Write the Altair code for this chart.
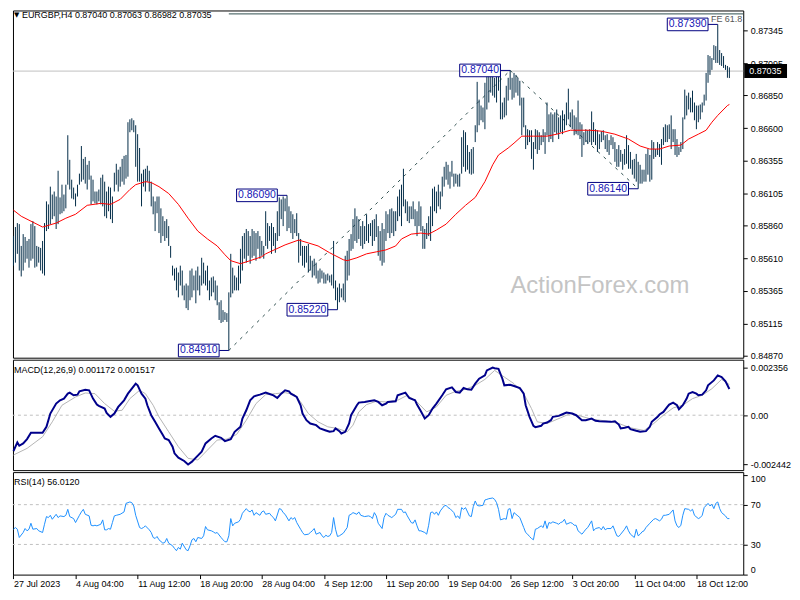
import altair as alt
import pandas as pd

# ---------------- data ----------------
highs = [
0.85780,0.85849,0.85879,0.85871,0.85705,0.85795,0.85773,0.85743,0.85758,0.85871,
0.85894,0.85856,0.85705,0.85698,0.85690,0.85743,0.85879,0.86044,0.86021,0.86156,
0.86096,0.86119,0.86081,0.86277,0.86074,0.86171,0.86096,0.86171,0.86547,0.86360,
0.86209,0.86149,0.86104,0.86171,0.86255,0.86465,0.86367,0.86382,0.86322,0.86352,
0.86240,0.86209,0.86119,0.86119,0.86134,0.86224,0.86247,0.86194,0.86119,0.86156,
0.86149,0.86081,0.86262,0.86330,0.86285,0.86307,0.86367,0.86390,0.86397,0.86646,
0.86668,0.86676,0.86661,0.86623,0.86555,0.86450,0.86255,0.86285,0.86292,0.86315,
0.86277,0.86194,0.86081,0.86044,0.86081,0.86081,0.85991,0.85931,0.85894,0.85909,
0.85856,0.85705,0.85555,0.85533,0.85540,0.85503,0.85555,0.85518,0.85404,0.85419,
0.85404,0.85518,0.85533,0.85480,0.85518,0.85548,0.85480,0.85615,0.85578,0.85518,
0.85555,0.85442,0.85465,0.85473,0.85442,0.85404,0.85277,0.85292,0.85217,0.85202,
0.85194,0.85352,0.85645,0.85540,0.85480,0.85465,0.85555,0.85683,0.85780,0.85803,
0.85834,0.85818,0.85780,0.85834,0.85818,0.85803,0.85818,0.85780,0.85743,0.85705,
0.85969,0.85879,0.85856,0.85879,0.85849,0.85803,0.85969,0.86074,0.86059,0.86081,
0.86066,0.86090,0.86006,0.85969,0.85946,0.85909,0.85954,0.85803,0.85758,0.85705,
0.85705,0.85705,0.85720,0.85630,0.85593,0.85608,0.85578,0.85518,0.85533,0.85518,
0.85503,0.85488,0.85495,0.85480,0.85488,0.85743,0.85442,0.85389,0.85419,0.85382,
0.85419,0.85630,0.85668,0.85758,0.85795,0.85909,0.85991,0.85931,0.85909,0.85856,
0.85894,0.85856,0.85946,0.85871,0.85879,0.85901,0.85909,0.85946,0.85856,0.85818,
0.85879,0.85834,0.85969,0.85946,0.85984,0.85991,0.85969,0.85969,0.86081,0.86134,
0.86171,0.86292,0.86059,0.86044,0.86006,0.86006,0.86044,0.85984,0.85969,0.86044,
0.86006,0.85856,0.85834,0.85879,0.85931,0.86006,0.86141,0.86156,0.86119,0.86171,
0.86119,0.86232,0.86307,0.86345,0.86322,0.86270,0.86352,0.86255,0.86255,0.86247,
0.86255,0.86532,0.86585,0.86570,0.86472,0.86420,0.86442,0.86457,0.86623,0.86953,
0.86818,0.86773,0.86758,0.86946,0.87006,0.86999,0.87021,0.87036,0.86984,0.87006,
0.86999,0.87021,0.86796,0.86833,0.86923,0.86984,0.87040,0.86984,0.87021,0.87006,
0.86984,0.86961,0.86833,0.86833,0.86623,0.86593,0.86585,0.86585,0.86495,0.86593,
0.86585,0.86570,0.86547,0.86593,0.86570,0.86796,0.86706,0.86721,0.86706,0.86721,
0.86743,0.86683,0.86698,0.86736,0.86706,0.86796,0.86901,0.86721,0.86743,0.86698,
0.86683,0.86811,0.86646,0.86630,0.86570,0.86593,0.86585,0.86593,0.86728,0.86646,
0.86593,0.86585,0.86555,0.86578,0.86585,0.86547,0.86555,0.86510,0.86547,0.86532,
0.86495,0.86442,0.86472,0.86435,0.86405,0.86442,0.86547,0.86472,0.86420,0.86360,
0.86367,0.86405,0.86345,0.86322,0.86285,0.86285,0.86405,0.86442,0.86397,0.86510,
0.86495,0.86442,0.86495,0.86480,0.86518,0.86608,0.86630,0.86623,0.86630,0.86698,
0.86593,0.86593,0.86518,0.86457,0.86495,0.86683,0.86894,0.86848,0.86871,0.86833,
0.86886,0.86796,0.86773,0.86773,0.86781,0.86796,0.86856,0.87021,0.87157,0.87149,
0.87134,0.87232,0.87225,0.87390,0.87195,0.87172,0.87149,0.87082,0.87074,0.87063]

lows = [
0.85555,0.85578,0.85645,0.85518,0.85473,0.85518,0.85578,0.85608,0.85540,0.85593,
0.85608,0.85540,0.85548,0.85578,0.85518,0.85495,0.85480,0.85818,0.85834,0.85871,
0.85909,0.85931,0.85834,0.85871,0.85946,0.85954,0.85969,0.85991,0.86171,0.86134,
0.86066,0.86059,0.86006,0.86081,0.86171,0.86194,0.86209,0.86179,0.86134,0.86209,
0.86021,0.86044,0.86029,0.86021,0.86044,0.86021,0.86006,0.85931,0.85916,0.85969,
0.85909,0.85879,0.86119,0.86171,0.86119,0.86156,0.86194,0.86171,0.86217,0.86232,
0.86570,0.86585,0.86570,0.86307,0.86194,0.86194,0.86006,0.86156,0.86119,0.86194,
0.86119,0.86006,0.85946,0.85818,0.85954,0.85803,0.85728,0.85780,0.85743,0.85765,
0.85705,0.85615,0.85480,0.85442,0.85367,0.85314,0.85404,0.85329,0.85292,0.85232,
0.85217,0.85292,0.85314,0.85367,0.85269,0.85367,0.85329,0.85404,0.85419,0.85404,
0.85367,0.85292,0.85322,0.85352,0.85292,0.85254,0.85142,0.85119,0.85127,0.85142,
0.85127,0.84910,0.85314,0.85344,0.85367,0.85367,0.85367,0.85419,0.85518,0.85608,
0.85578,0.85630,0.85570,0.85615,0.85630,0.85593,0.85683,0.85608,0.85630,0.85608,
0.85705,0.85683,0.85743,0.85645,0.85705,0.85653,0.85743,0.85780,0.85909,0.85856,
0.85969,0.85818,0.85841,0.85803,0.85758,0.85803,0.85780,0.85578,0.85630,0.85555,
0.85540,0.85578,0.85503,0.85518,0.85465,0.85480,0.85457,0.85419,0.85427,0.85457,
0.85419,0.85419,0.85442,0.85427,0.85404,0.85382,0.85292,0.85220,0.85277,0.85314,
0.85292,0.85277,0.85442,0.85480,0.85668,0.85683,0.85743,0.85728,0.85758,0.85705,
0.85683,0.85720,0.85743,0.85728,0.85780,0.85705,0.85743,0.85773,0.85630,0.85593,
0.85555,0.85578,0.85743,0.85803,0.85765,0.85803,0.85780,0.85818,0.85894,0.85931,
0.85856,0.86006,0.85954,0.85894,0.85879,0.85909,0.85909,0.85856,0.85780,0.85856,
0.85818,0.85683,0.85683,0.85758,0.85780,0.85743,0.85856,0.85969,0.85954,0.86006,
0.85984,0.86081,0.86156,0.86209,0.86171,0.86141,0.86232,0.86156,0.86179,0.86156,
0.86156,0.86255,0.86307,0.86270,0.86285,0.86255,0.86247,0.86255,0.86495,0.86570,
0.86623,0.86661,0.86646,0.86593,0.86743,0.86796,0.86871,0.86848,0.86833,0.86796,
0.86886,0.86668,0.86668,0.86683,0.86698,0.86811,0.86893,0.86818,0.86833,0.86871,
0.86848,0.86773,0.86547,0.86608,0.86442,0.86472,0.86495,0.86367,0.86285,0.86442,
0.86405,0.86435,0.86472,0.86495,0.86405,0.86547,0.86495,0.86518,0.86495,0.86570,
0.86555,0.86518,0.86570,0.86555,0.86585,0.86623,0.86668,0.86608,0.86593,0.86547,
0.86555,0.86547,0.86518,0.86382,0.86472,0.86495,0.86480,0.86495,0.86472,0.86495,
0.86472,0.86420,0.86442,0.86495,0.86510,0.86442,0.86420,0.86397,0.86472,0.86442,
0.86345,0.86307,0.86307,0.86345,0.86285,0.86322,0.86330,0.86292,0.86292,0.86247,
0.86217,0.86194,0.86140,0.86179,0.86179,0.86194,0.86194,0.86247,0.86194,0.86209,
0.86367,0.86382,0.86397,0.86382,0.86322,0.86472,0.86495,0.86495,0.86518,0.86442,
0.86495,0.86397,0.86382,0.86397,0.86420,0.86442,0.86668,0.86698,0.86743,0.86721,
0.86721,0.86661,0.86593,0.86646,0.86668,0.86721,0.86773,0.86811,0.86946,0.87006,
0.87044,0.87119,0.87097,0.87097,0.87082,0.87074,0.87059,0.87044,0.86984,0.86982]

ma_idx = [0,4,8,15,22,27,32,38,45,50,55,60,63,68,71,75,80,85,90,95,
          100,105,109,112,117,122,128,130,140,147,152,157,163,170,172,177,182,187,192,197,
          200,205,210,214,218,223,228,233,238,243,247,250,255,258,262,268,275,280,287,293,
          297,303,310,317,323,328,333,338,344,348,353,357,360,363,368,369]
ma_val = [0.85977,0.85931,0.85901,0.85849,0.85879,0.85916,0.85946,0.86014,0.86029,0.86021,
          0.86059,0.86134,0.86171,0.86194,0.86187,0.86156,0.86104,0.86021,0.85916,0.85818,
          0.85758,0.85705,0.85638,0.85593,0.85570,0.85593,0.85623,0.85645,0.85713,0.85750,
          0.85728,0.85705,0.85653,0.85600,0.85593,0.85615,0.85645,0.85660,0.85675,0.85705,
          0.85758,0.85795,0.85803,0.85795,0.85826,0.85871,0.85946,0.86014,0.86074,0.86194,
          0.86322,0.86397,0.86450,0.86487,0.86540,0.86540,0.86540,0.86555,0.86585,0.86585,
          0.86585,0.86578,0.86555,0.86518,0.86465,0.86442,0.86442,0.86465,0.86472,0.86518,
          0.86555,0.86585,0.86646,0.86698,0.86773,0.86781]

macd_idx = [0,2,3,5,7,9,15,17,19,22,24,26,28,29,31,33,34,37,39,41,43,44,47,48,50,52,54,57,59,61,
            63,64,66,68,69,71,73,75,77,78,80,82,83,85,88,90,92,94,97,99,102,104,107,109,112,114,117,118,120,122,
            124,127,130,132,134,136,138,140,142,143,146,148,149,151,153,156,158,161,163,165,166,168,169,171,173,174,177,178,181,183,
            186,188,190,192,193,197,198,202,204,207,208,210,212,214,216,218,221,223,226,228,230,232,234,236,238,240,243,244,247,248,
            250,252,253,256,258,261,263,264,266,268,269,272,273,275,277,278,281,283,285,288,290,293,295,298,300,302,305,308,310,312,
            313,315,317,318,321,323,326,328,329,332,333,335,337,338,340,342,343,345,347,348,350,352,353,355,357,358,361,363,365,367,369]
macd_val = [-0.001774,-0.001347,-0.001512,-0.001397,-0.001183,-0.000871,-0.000871,-0.000575,0.000082,0.000575,
            0.000739,0.000822,0.001068,0.001117,0.000986,0.001019,0.001183,0.001265,0.001232,0.000822,
            0.000526,0.000460,0.000329,0.000115,-0.000082,0.000082,0.000411,0.000739,0.001068,0.001314,
            0.001561,0.001479,0.001068,0.000822,0.000493,0.0,-0.000329,-0.000657,-0.000986,-0.001150,
            -0.001232,-0.001561,-0.001889,-0.002103,-0.002268,-0.002440,-0.002300,-0.002103,-0.001807,-0.001397,
            -0.001150,-0.001019,-0.001117,-0.001281,-0.001183,-0.000822,-0.000575,-0.000164,0.000246,0.000739,
            0.000937,0.001019,0.001117,0.001052,0.000986,0.000854,0.001068,0.001232,0.001183,0.001068,
            0.000904,0.000493,0.000082,-0.000246,-0.000411,-0.000493,-0.000657,-0.000756,-0.000822,-0.000789,
            -0.000657,-0.000789,-0.000904,-0.000822,-0.000411,0.0,0.000493,0.000624,0.000657,0.000690,
            0.000739,0.000657,0.000493,0.000575,0.000657,0.000690,0.000986,0.001117,0.000854,0.000739,
            0.000526,0.000197,-0.000164,0.0,0.000329,0.000575,0.000986,0.001282,0.001380,0.001150,
            0.001117,0.001347,0.001282,0.001265,0.001561,0.001807,0.001972,0.002218,0.002356,0.002330,
            0.002300,0.001807,0.001479,0.001512,0.001446,0.001347,0.001068,0.000493,-0.000082,-0.000526,
            -0.000591,-0.000526,-0.000411,-0.000361,-0.000246,-0.000082,-0.000033,0.000049,0.000131,0.000082,
            0.0,-0.000246,-0.000246,-0.000164,-0.000279,-0.000296,-0.000312,-0.000329,-0.000296,-0.000460,
            -0.000657,-0.000624,-0.000575,-0.000690,-0.000772,-0.000822,-0.000789,-0.000575,-0.000329,-0.000082,
            0.000033,0.000164,0.000411,0.000526,0.000624,0.000493,0.000296,0.000493,0.000822,0.001068,
            0.001150,0.001068,0.000986,0.001019,0.001232,0.001479,0.001725,0.001972,0.001890,0.001676,0.001300]

sig_idx = [0,7,15,20,25,32,37,42,47,52,56,60,65,68,72,75,80,85,90,95,
           100,105,110,115,120,125,130,135,140,145,148,152,157,162,167,172,175,178,182,187,
           192,198,203,208,213,218,223,228,233,238,243,248,253,258,263,267,270,275,282,287,
           292,298,305,312,318,325,330,335,340,345,350,355,360,365,369]
sig_val = [-0.001972,-0.001643,-0.001068,-0.000329,0.000493,0.000904,0.001101,0.001068,0.000575,0.000197,
           0.000246,0.000822,0.001232,0.001068,0.000493,-0.000082,-0.000822,-0.001561,-0.002136,-0.002218,
           -0.001725,-0.001232,-0.001183,-0.000953,-0.000246,0.000575,0.001019,0.001068,0.001117,0.001019,
           0.000657,0.000082,-0.000329,-0.000575,-0.000657,-0.000822,-0.000493,0.000164,0.000526,0.000690,
           0.000657,0.000739,0.000986,0.000657,0.000164,0.000411,0.000986,0.001183,0.001282,0.001479,
           0.001774,0.002218,0.001890,0.001561,0.001068,0.000329,-0.000329,-0.000411,-0.000131,0.000082,
           -0.000033,-0.000197,-0.000279,-0.000411,-0.000624,-0.000756,-0.000411,0.0,0.000361,0.000493,
           0.000822,0.000986,0.001314,0.001774,0.001517]

rsi_idx = [0,1,2,3,5,6,7,8,9,10,12,13,15,16,17,18,19,20,22,23,24,26,27,28,29,31,32,34,35,36,
           37,39,40,41,42,43,45,46,47,48,49,50,51,52,53,55,57,58,60,61,62,63,65,66,67,68,70,71,72,73,
           74,75,77,78,79,80,82,83,84,85,86,87,89,90,91,92,93,94,95,97,98,99,100,102,103,104,105,107,108,109,
           110,111,112,113,114,116,117,118,120,121,122,123,124,125,127,128,129,130,132,133,134,135,137,138,139,140,142,143,144,145,
           146,148,149,150,152,153,154,155,156,158,159,160,161,162,163,164,165,166,167,168,170,172,173,174,175,177,178,179,181,183,
           184,185,186,187,188,190,191,192,193,195,196,197,198,200,201,202,203,205,206,207,208,209,210,212,213,214,215,216,217,218,
           219,220,222,223,224,225,227,228,229,230,231,232,233,235,236,237,238,239,240,242,243,244,245,247,248,249,250,251,253,254,
           255,256,257,258,259,260,261,263,264,265,266,267,268,269,270,272,273,274,275,276,277,278,280,281,282,283,284,285,287,288,
           289,290,291,293,294,295,296,298,299,300,302,303,304,305,306,308,309,310,311,312,313,315,316,317,318,320,321,322,323,324,
           325,326,328,330,331,333,334,335,336,338,340,341,342,343,344,345,346,348,349,350,351,353,354,355,356,358,359,360,361,362,
           363,364,365,367,368,369]
rsi_val = [45.3,47.0,45.3,37.0,42.0,46.0,43.7,45.3,51.3,45.3,46.0,43.7,42.0,50.3,58.0,57.0,59.3,55.3,60.3,57.0,58.7,58.0,59.3,65.3,58.0,56.0,52.0,59.3,62.7,65.3,
           60.3,58.7,49.3,48.7,49.3,48.7,50.3,54.7,44.7,44.7,46.0,45.3,52.0,58.7,59.3,60.3,62.7,71.3,72.7,72.0,68.7,59.3,47.0,46.0,47.0,48.7,44.7,42.0,37.0,36.0,
           38.0,34.7,31.3,32.0,36.0,31.3,28.7,26.0,23.7,27.0,25.3,31.3,24.7,23.7,28.7,34.7,36.0,32.7,37.0,36.0,38.7,48.0,44.7,43.7,42.7,41.3,42.0,37.0,34.7,32.7,
           32.7,38.7,56.0,48.7,51.3,52.7,55.3,61.3,66.0,63.7,62.7,64.7,59.3,62.0,59.3,62.7,63.7,60.3,61.3,58.7,57.0,53.7,66.0,65.3,62.0,60.3,53.7,57.0,55.3,57.0,
           52.0,45.3,42.0,39.7,40.3,42.0,43.7,46.0,40.3,42.0,38.7,37.0,39.3,38.0,38.7,42.0,57.0,45.3,38.0,38.7,41.3,47.0,59.3,60.3,62.0,60.3,62.7,59.3,58.0,58.7,
           58.0,56.0,62.0,58.7,51.3,46.0,57.0,61.3,59.3,57.0,58.7,60.3,65.3,65.3,62.0,62.7,58.7,52.0,51.3,54.7,48.7,43.7,43.7,42.0,40.3,49.3,62.0,62.7,60.3,62.7,
           59.3,63.7,68.7,69.3,67.0,66.0,62.0,57.0,58.7,56.0,67.0,65.3,67.0,58.7,58.0,68.0,73.7,69.3,68.7,69.3,74.7,75.3,76.0,76.7,75.3,72.0,65.3,54.7,56.0,55.3,
           65.3,66.0,56.0,62.0,60.3,58.7,57.0,47.0,42.0,40.3,38.0,36.0,34.7,45.3,46.0,48.7,47.0,53.7,46.0,52.0,51.3,52.7,51.3,50.3,52.0,52.7,55.3,50.3,52.0,51.3,
           49.3,49.3,43.7,40.3,42.7,45.3,47.0,53.7,43.7,46.0,47.0,44.7,48.0,44.7,46.0,46.0,48.7,43.7,38.7,38.0,40.3,45.3,48.7,43.7,40.3,37.0,45.3,38.7,40.3,42.7,
           43.7,47.0,51.3,55.3,56.0,53.7,55.3,59.3,59.3,60.3,64.7,53.7,48.7,47.0,49.3,59.3,66.0,65.3,63.7,65.3,59.3,56.0,57.0,59.3,67.0,71.3,68.7,70.3,66.0,71.3,
           72.7,66.0,62.0,58.7,56.0,56.0]

price_ticks = [0.84870, 0.85115, 0.85365, 0.85610, 0.85860, 0.86105, 0.86355, 0.86600, 0.86850, 0.87095, 0.87345]
macd_ticks = [0.002356, 0.0, -0.002442]
rsi_ticks = [0, 30, 70, 100]
date_idx = [0, 32, 64, 96, 128, 160, 192, 224, 256, 288, 320, 352]
date_labels = ["27 Jul 2023", "4 Aug 04:00", "11 Aug 12:00", "18 Aug 20:00", "28 Aug 04:00", "4 Sep 12:00",
               "11 Sep 20:00", "19 Sep 04:00", "26 Sep 12:00", "3 Oct 20:00", "11 Oct 04:00", "18 Oct 12:00"]

swing_idx = [111, 141, 167, 256, 322, 363]
swing_price = [0.84910, 0.86090, 0.85220, 0.87040, 0.86140, 0.87390]
trend_from_idx = [111, 256]
trend_from_price = [0.84910, 0.87040]
trend_to_idx = [256, 322]
trend_to_price = [0.87040, 0.86140]

bid_price = 0.87035
fe_start_idx = 111
fe_level = 0.87470
symbol = "EURGBP,H4"
last_ohlc = ["0.87040", "0.87063", "0.86982", "0.87035"]
macd_title = "MACD(12,26,9) 0.001172 0.001517"
rsi_title = "RSI(14) 56.0120"
watermark = "ActionForex.com"

# ---------------- layout / style ----------------
W = 734
H_MAIN, H_MACD, H_RSI = 349, 111, 103
FONT = "Liberation Sans"
BAR_COLOR = "#032c48"
NAVY = "#000080"

XS = alt.Scale(domain=[-0.256, 376.15], nice=False, zero=False)
PS = alt.Scale(domain=[0.84855, 0.87496], nice=False, zero=False)
MS = alt.Scale(domain=[-0.00272, 0.00275], nice=False, zero=False)
RS = alt.Scale(domain=[-0.3, 102.7], nice=False, zero=False)

def right_axis(values, **kw):
    return alt.Axis(orient="right", values=values, tickSize=4, tickColor="black", labelPadding=3,
                    domain=False, grid=False, labelFont=FONT, labelFontSize=9, labelColor="black",
                    title=None, labelOverlap=False, **kw)

price_axis = right_axis(price_ticks, format=".5f", labelFlush=False)
macd_axis = right_axis(macd_ticks, labelFlush=False,
                       labelExpr="datum.value == 0 ? '0.00' : replace(format(datum.value, '.6f'), '\u2212', '-')")
rsi_axis = right_axis(rsi_ticks, format="d", labelFlush=6)
label_js = "[" + ",".join("'%s'" % s for s in date_labels) + "]"
x_axis = alt.Axis(values=date_idx, labelExpr=label_js + "[round(datum.value / 32)]", labelAlign="left",
                  tickSize=4, tickColor="black", labelPadding=1, domain=False, grid=False,
                  labelFont=FONT, labelFontSize=9, labelColor="black", title=None,
                  labelFlush=False, labelOverlap=False, labelBound=False)

def X(f, axis=None):
    return alt.X(f, type="quantitative", scale=XS, axis=axis)

def YP(f):
    return alt.Y(f, type="quantitative", scale=PS, axis=price_axis)

def YM(f):
    return alt.Y(f, type="quantitative", scale=MS, axis=macd_axis)

def YR(f):
    return alt.Y(f, type="quantitative", scale=RS, axis=rsi_axis)

# ---------------- main price panel ----------------
bars = pd.DataFrame({"i": list(range(len(highs))), "high": highs, "low": lows})
ma_df = pd.DataFrame({"i": ma_idx, "v": ma_val})
swings = pd.DataFrame({"i": swing_idx, "p": swing_price, "t": ["%.5f" % p for p in swing_price]})
trends = pd.DataFrame({"a": trend_from_idx, "pa": trend_from_price, "b": trend_to_idx, "pb": trend_to_price})

bid_line = alt.Chart(pd.DataFrame({"p": [bid_price]})).mark_rule(color="#c0c0c0", strokeWidth=1).encode(y=YP("p"))
fe_line = alt.Chart(pd.DataFrame({"i": [fe_start_idx], "p": [fe_level]})).mark_rule(
    color="#2f4f4f", strokeWidth=1).encode(x=X("i"), x2=alt.value(W), y=YP("p"))
fe_text = alt.Chart(pd.DataFrame({"p": [fe_level], "t": ["FE 61.8"]})).mark_text(
    align="right", baseline="top", dy=1, font=FONT, fontSize=9, color="#555555").encode(
    x=alt.value(W - 1), y=YP("p"), text="t:N")
bar_layer = alt.Chart(bars).mark_rule(color=BAR_COLOR, strokeWidth=1).encode(
    x=X("i"), y=YP("high"), y2=alt.Y2("low"))
ma_layer = alt.Chart(ma_df).mark_line(color="#ff0000", strokeWidth=1).encode(x=X("i"), y=YP("v"))
trend_layer = alt.Chart(trends).mark_rule(color="#2f4f4f", strokeWidth=1, strokeDash=[3, 5]).encode(
    x=X("a"), x2=alt.X2("b"), y=YP("pa"), y2=alt.Y2("pb"))

sw = alt.Chart(swings).transform_calculate(
    xl="datum.i - 26", xr="datum.i - 5", xm="datum.i - 15.5",
    pt="datum.p + 0.00048", pb="datum.p - 0.00048")
sw_conn = sw.mark_rule(color=NAVY, strokeWidth=1).encode(x=X("xr:Q"), x2=alt.X2("i"), y=YP("p"))
sw_box = sw.mark_rect(fill="white", stroke=NAVY, strokeWidth=1).encode(
    x=X("xl:Q"), x2=alt.X2("xr:Q"), y=YP("pt:Q"), y2=alt.Y2("pb:Q"))
sw_text = sw.mark_text(font=FONT, fontSize=10.5, color="#1515b5", baseline="middle").encode(
    x=X("xm:Q"), y=YP("p"), text="t:N")

header = alt.Chart(pd.DataFrame({"t": [symbol + "  " + " ".join(last_ohlc)]})).mark_text(
    align="left", baseline="middle", font=FONT, fontSize=9, color="black").encode(
    x=alt.value(9), y=alt.value(5), text="t:N")
header_tri = alt.Chart(pd.DataFrame({"t": ["\u25bc"]})).mark_text(
    align="left", baseline="middle", font="DejaVu Sans", fontSize=7, color="black").encode(
    x=alt.value(1), y=alt.value(5), text="t:N")
wm = alt.Chart(pd.DataFrame({"t": [watermark]})).mark_text(
    align="left", baseline="alphabetic", font=FONT, fontSize=24, color="#c4c4c4").encode(
    x=alt.value(500), y=alt.value(284), text="t:N")

bid_df = pd.DataFrame({"p": [bid_price], "t": ["%.5f" % bid_price]}).assign(
    pt=lambda d: d.p + 0.00053, pb=lambda d: d.p - 0.00053)
bid_box = alt.Chart(bid_df).mark_rect(fill="black").encode(
    x=alt.value(W + 1), x2=alt.value(W + 44), y=YP("pt"), y2=alt.Y2("pb"))
bid_text = alt.Chart(bid_df).mark_text(align="left", baseline="middle", font=FONT, fontSize=9,
                                       color="white").encode(x=alt.value(W + 6), y=YP("p"), text="t:N")

main = alt.layer(wm, bid_line, fe_line, fe_text, trend_layer, bar_layer, ma_layer,
                 sw_conn, sw_box, sw_text, header_tri, header, bid_box, bid_text).properties(
    width=W, height=H_MAIN)

# ---------------- MACD panel ----------------
macd_df = pd.DataFrame({"i": macd_idx, "v": macd_val})
sig_df = pd.DataFrame({"i": sig_idx, "v": sig_val})
zero = alt.Chart(pd.DataFrame({"v": [0.0]})).mark_rule(color="#c0c0c0", strokeDash=[3, 3]).encode(y=YM("v"))
sig_line = alt.Chart(sig_df).mark_line(color="#b4b4b4", strokeWidth=1).encode(x=X("i"), y=YM("v"))
macd_line = alt.Chart(macd_df).mark_line(color="#00008b", strokeWidth=2).encode(x=X("i"), y=YM("v"))
macd_lbl = alt.Chart(pd.DataFrame({"t": [macd_title]})).mark_text(
    align="left", baseline="middle", font=FONT, fontSize=9, color="black").encode(
    x=alt.value(1), y=alt.value(10), text="t:N")
macd = alt.layer(zero, sig_line, macd_line, macd_lbl).properties(width=W, height=H_MACD)

# ---------------- RSI panel ----------------
rsi_df = pd.DataFrame({"i": rsi_idx, "v": rsi_val})
levels = alt.Chart(pd.DataFrame({"v": [70, 30]})).mark_rule(color="#c0c0c0", strokeDash=[3, 3]).encode(
    y=YR("v"))
rsi_line = alt.Chart(rsi_df).mark_line(color="#1e90ff", strokeWidth=1).encode(x=X("i", x_axis), y=YR("v"))
rsi_lbl = alt.Chart(pd.DataFrame({"t": [rsi_title]})).mark_text(
    align="left", baseline="middle", font=FONT, fontSize=9, color="black").encode(
    x=alt.value(1), y=alt.value(10), text="t:N")
rsi = alt.layer(levels, rsi_line, rsi_lbl).properties(width=W, height=H_RSI)

chart = alt.vconcat(main, macd, rsi, spacing=2, bounds="flush").properties(
    padding=0, background="white"
).configure(padding=0).configure_view(stroke="black", strokeWidth=1)

chart.save("out.html", embed_options={"renderer": "svg", "actions": False})
